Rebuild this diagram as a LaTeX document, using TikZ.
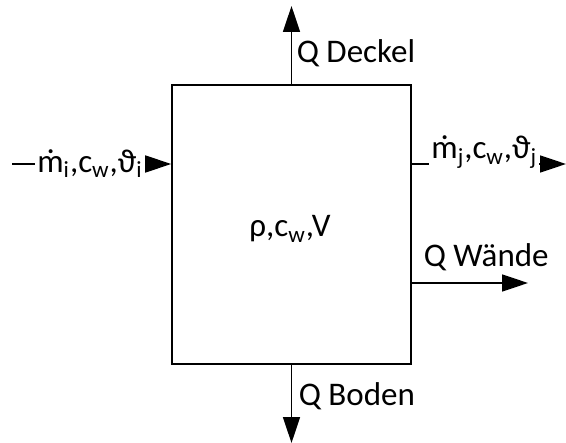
\documentclass[tikz,border=0pt]{standalone}
\usepackage{fontspec}
\setmainfont{Carlito}
\usetikzlibrary{arrows.meta}

\begin{document}
\begin{tikzpicture}[x=0.5pt, y=-0.5pt, line width=0.8pt,
    every node/.style={font=\fontsize{16.5pt}{19pt}\selectfont, inner sep=1pt},
    flow/.style={-{Triangle[length=13pt, width=8.5pt]}}]
  \useasboundingbox (0,0) rectangle (566,443);
  \node[draw, minimum width=119.5pt, minimum height=139.5pt] (tank) at (291.5,224.5) {};
  \node (inhalt) at (290,229) {ρ,c\textsubscript{w},V};
  % Waermestroeme
  \coordinate (deckel) at (291.5,6);
  \coordinate (boden) at (291.5,443);
  \coordinate (waende) at (528,283);
  \draw[flow] (tank.north) -- (deckel);
  \draw[flow] (tank.south) -- (boden);
  \draw[flow] (tank.east |- waende) -- (waende);
  \node[anchor=base west] (qd) at (294,63) {Q Deckel};
  \node[anchor=base west] (qb) at (296,405) {Q Boden};
  \node[anchor=base west] (qw) at (421,266) {Q Wände};
  % Massenstroeme
  \coordinate (zu) at (12,164);
  \coordinate (ab) at (566,164);
  \draw[flow] (zu) -- (tank.west |- zu)
    node[pos=0.49, fill=white, inner xsep=1pt] (mi) {ṁ\textsubscript{i},c\textsubscript{w},ϑ\textsubscript{i}};
  \draw[flow] (tank.east |- ab) -- (ab)
    node[pos=0.47, yshift=6pt, fill=white, inner xsep=1pt] (mj) {ṁ\textsubscript{j},c\textsubscript{w},ϑ\textsubscript{j}};
\end{tikzpicture}
\end{document}
